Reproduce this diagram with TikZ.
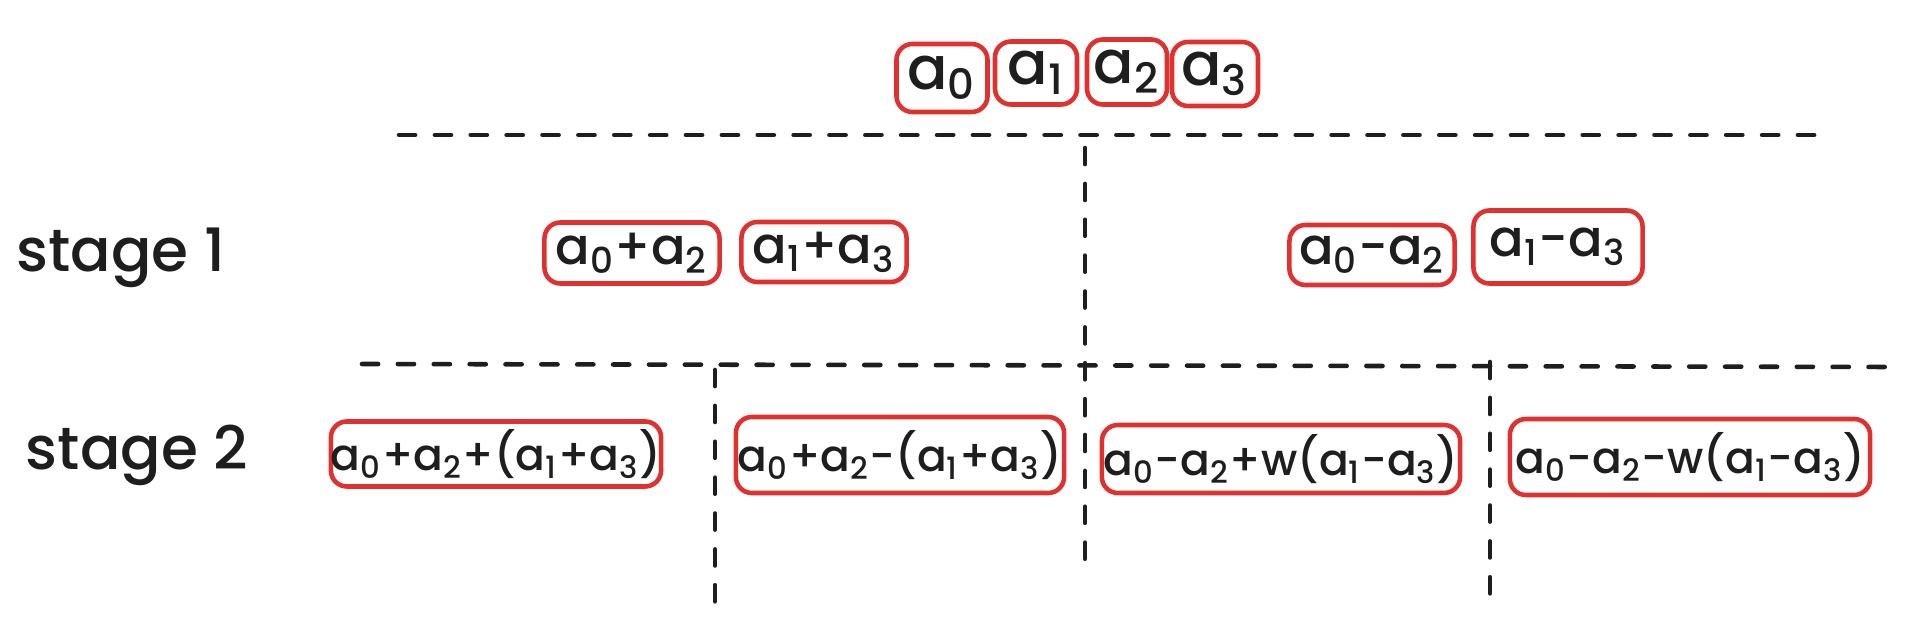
\documentclass[tikz,border=0pt]{standalone}
\usepackage{fontspec}
\setmainfont{Poppins}[UprightFont=* Medium]
\usepackage{tikz}
\usetikzlibrary{positioning}
\definecolor{boxred}{HTML}{E03131}
\definecolor{ink}{HTML}{1E1E1E}

\begin{document}
\begin{tikzpicture}[x=0.01cm,y=-0.01cm,
		every node/.style={text=ink,inner sep=0pt},
		box/.style={draw=boxred,line width=1.3pt,rounded corners=0.16cm},
		topbox/.style={box,font=\fontsize{17}{19}\selectfont},
		onebox/.style={box,font=\fontsize{14.5}{17}\selectfont},
		twobox/.style={box,font=\fontsize{12.5}{15}\selectfont},
		stagelabel/.style={font=\fontsize{17}{20}\selectfont},
		sep/.style={draw=ink,line width=1.3pt,line cap=round,dash pattern=on 4.6pt off 5.6pt}]
		\useasboundingbox (0,0) rectangle (1914,634);

		%input nodes
		\node[topbox,minimum width=0.91cm,minimum height=0.68cm] (a0) at (942,78) {a\textsubscript{0}};
		\node[topbox,minimum width=0.82cm,minimum height=0.63cm] (a1) at (1036,73) {a\textsubscript{1}};
		\node[topbox,minimum width=0.80cm,minimum height=0.65cm] (a2) at (1127,72) {a\textsubscript{2}};
		\node[topbox,minimum width=0.86cm,minimum height=0.64cm] (a3) at (1215,74) {a\textsubscript{3}};

		%stage labels
		\node[stagelabel] (st1) at (121,258) {stage 1};
		\node[stagelabel] (st2) at (137,455) {stage 2};

		%stage 1 nodes
		\node[onebox,minimum width=1.75cm,minimum height=0.61cm] (b0) at (632,253) {a\textsubscript{0}+a\textsubscript{2}};
		\node[onebox,minimum width=1.65cm,minimum height=0.60cm] (b1) at (824,252) {a\textsubscript{1}+a\textsubscript{3}};
		\node[onebox,minimum width=1.65cm,minimum height=0.60cm] (b2) at (1372,255) {a\textsubscript{0}-a\textsubscript{2}};
		\node[onebox,minimum width=1.69cm,minimum height=0.73cm] (b3) at (1558,247) {a\textsubscript{1}-a\textsubscript{3}};

		%stage 2 nodes
		\node[twobox,minimum width=3.30cm,minimum height=0.65cm] (c0) at (496,454) {a\textsubscript{0}+a\textsubscript{2}+(a\textsubscript{1}+a\textsubscript{3})};
		\node[twobox,minimum width=3.28cm,minimum height=0.76cm] (c1) at (900,455) {a\textsubscript{0}+a\textsubscript{2}-(a\textsubscript{1}+a\textsubscript{3})};
		\node[twobox,minimum width=3.58cm,minimum height=0.68cm] (c2) at (1281,459) {a\textsubscript{0}-a\textsubscript{2}+w(a\textsubscript{1}-a\textsubscript{3})};
		\node[twobox,minimum width=3.60cm,minimum height=0.76cm] (c3) at (1690,457) {a\textsubscript{0}-a\textsubscript{2}-w(a\textsubscript{1}-a\textsubscript{3})};

		%separator ends
		\coordinate (h1l) at (399,135);
		\coordinate (h1r) at (1819,135);
		\coordinate (h2l) at (362,364);
		\coordinate (h2r) at (1893,367);
		\coordinate (vmt) at (1085,148);
		\coordinate (vmb) at (1085,565);
		\coordinate (vlt) at (715,370);
		\coordinate (vlb) at (715,605);
		\coordinate (vrt) at (1490,362);
		\coordinate (vrb) at (1490,596);

		%separators
		\draw[sep] (h1l) -- (h1r);
		\draw[sep] (h2l) -- (h2r);
		\draw[sep] (vmt) -- (vmb);
		\draw[sep] (vlt) -- (vlb);
		\draw[sep] (vrt) -- (vrb);
	\end{tikzpicture}
\end{document}
